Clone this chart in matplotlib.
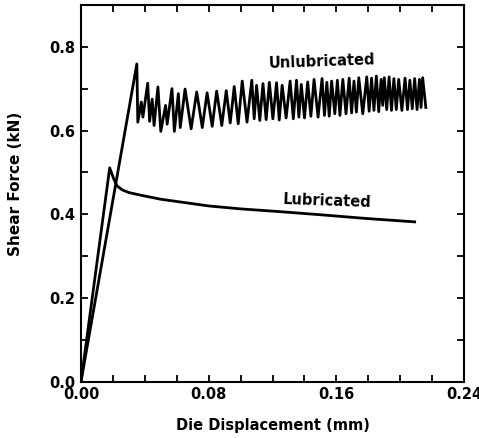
import matplotlib
matplotlib.use("Agg")
from matplotlib import pyplot as plt
from matplotlib.ticker import MultipleLocator, FormatStrFormatter

# Lubricated curve
lub_x = [0.0, 0.018, 0.0205, 0.0225, 0.026, 0.030, 0.037, 0.050, 0.065,
         0.080, 0.100, 0.126, 0.150, 0.179, 0.209]
lub_y = [0.0, 0.511, 0.485, 0.468, 0.458, 0.452, 0.446, 0.436, 0.428,
         0.420, 0.413, 0.406, 0.399, 0.390, 0.382]

# Unlubricated curve: loading ramp then stick-slip peaks / troughs
unl_x = [0.0, 0.0350, 0.0356, 0.0378, 0.0388, 0.0418, 0.0430, 0.0446, 0.0458,
         0.0482, 0.0500, 0.0530, 0.0540, 0.0570, 0.0585, 0.0610, 0.0622,
         0.0652, 0.0690, 0.0725, 0.0760, 0.0790, 0.0822, 0.0850, 0.0882,
         0.0910, 0.0935, 0.0960, 0.0985, 0.1010, 0.1040, 0.1070, 0.1085,
         0.1100, 0.1120, 0.1140, 0.1160, 0.1180, 0.1202, 0.1225, 0.1242,
         0.1260, 0.1285, 0.1310, 0.1330, 0.1350, 0.1365, 0.1380, 0.1400,
         0.1420, 0.1440, 0.1460, 0.1485, 0.1510, 0.1525, 0.1540, 0.1555,
         0.1570, 0.1590, 0.1606, 0.1622, 0.1640, 0.1660, 0.1680, 0.1695,
         0.1710, 0.1725, 0.1740, 0.1765, 0.1790, 0.1805, 0.1820, 0.1835,
         0.1850, 0.1865, 0.1880, 0.1890, 0.1900, 0.1915, 0.1930, 0.1945,
         0.1960, 0.1975, 0.1990, 0.2010, 0.2030, 0.2045, 0.2060, 0.2075,
         0.2090, 0.2105, 0.2120, 0.2130, 0.2140, 0.2160]
unl_y = [0.0, 0.759, 0.620, 0.668, 0.632, 0.713, 0.622, 0.675, 0.612,
         0.704, 0.598, 0.660, 0.615, 0.700, 0.598, 0.688, 0.607,
         0.699, 0.604, 0.692, 0.607, 0.690, 0.610, 0.694, 0.612,
         0.695, 0.618, 0.705, 0.616, 0.718, 0.620, 0.720, 0.628,
         0.708, 0.624, 0.712, 0.626, 0.715, 0.628, 0.714, 0.625,
         0.708, 0.630, 0.718, 0.628, 0.720, 0.632, 0.710, 0.630,
         0.716, 0.634, 0.722, 0.632, 0.724, 0.636, 0.715, 0.634,
         0.718, 0.640, 0.720, 0.636, 0.722, 0.640, 0.725, 0.642,
         0.718, 0.644, 0.726, 0.640, 0.728, 0.646, 0.725, 0.648,
         0.730, 0.645, 0.722, 0.660, 0.726, 0.650, 0.728, 0.648,
         0.724, 0.650, 0.722, 0.648, 0.725, 0.650, 0.720, 0.652,
         0.724, 0.650, 0.722, 0.655, 0.726, 0.655]

fig = plt.figure(figsize=(4.79, 4.38), dpi=100)
ax = fig.add_axes([0.169, 0.128, 0.800, 0.861])

ax.plot(unl_x, unl_y, color="black", lw=2.0)
ax.plot(lub_x, lub_y, color="black", lw=2.0)

ax.text(0.151, 0.764, "Unlubricated", fontsize=10.5, fontweight="bold",
        ha="center", va="center", rotation=2)
ax.text(0.154, 0.432, "Lubricated", fontsize=10.5, fontweight="bold",
        ha="center", va="center", rotation=-2)

ax.set_xlim(0, 0.24)
ax.set_ylim(0, 0.9)
ax.xaxis.set_major_locator(MultipleLocator(0.08))
ax.xaxis.set_minor_locator(MultipleLocator(0.02))
ax.yaxis.set_major_locator(MultipleLocator(0.2))
ax.yaxis.set_minor_locator(MultipleLocator(0.1))
ax.xaxis.set_major_formatter(FormatStrFormatter("%.2f"))
ax.yaxis.set_major_formatter(FormatStrFormatter("%.1f"))

ax.tick_params(which="both", direction="in", top=True, right=True,
               length=5, width=1.3, labelsize=10.5)
ax.tick_params(axis="x", pad=3.5)
ax.tick_params(axis="y", pad=4)
for lab in ax.get_xticklabels() + ax.get_yticklabels():
    lab.set_fontweight("bold")
for s in ax.spines.values():
    s.set_linewidth(1.5)

ax.set_xlabel("Die Displacement (mm)", fontsize=10.5, fontweight="bold")
ax.set_ylabel("Shear Force (kN)", fontsize=11, fontweight="bold")
ax.xaxis.set_label_coords(0.50, -0.095)
ax.yaxis.set_label_coords(-0.152, 0.525)

fig.savefig("out.png", dpi=100)
